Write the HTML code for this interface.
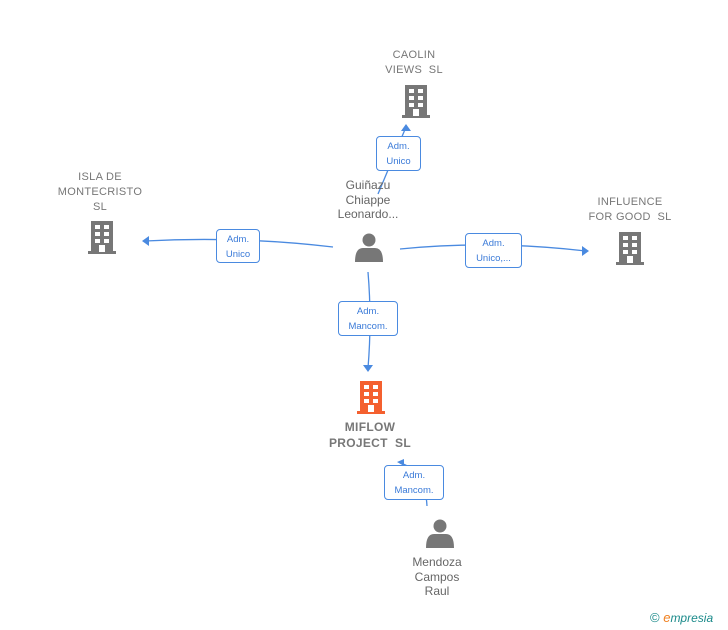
<html><head><style>body{margin:0;background:#fff;width:728px;height:630px;overflow:hidden;font-family:"Liberation Sans",sans-serif}
.t{position:absolute;text-align:center;color:#777;font-size:11px;line-height:15px;font-weight:bold;letter-spacing:.3px}
.p{position:absolute;text-align:center;color:#666;font-size:12px;line-height:14.5px}
.b{position:absolute;border:1px solid #4a8ae0;border-radius:4px;background:#fff;color:#3a7ad8;font-size:9.5px;line-height:15px;text-align:center;box-sizing:border-box;padding-top:2px}
</style></head><body>
<svg width="728" height="630" style="position:absolute;left:0;top:0">
<defs>
<g id="bld"><rect x="3" y="0" width="22" height="31"/><rect x="0" y="30" width="28" height="3"/>
<g fill="#fff"><rect x="7" y="4" width="5" height="4"/><rect x="16" y="4" width="5" height="4"/><rect x="7" y="11" width="5" height="4"/><rect x="16" y="11" width="5" height="4"/><rect x="7" y="18" width="5" height="4"/><rect x="16" y="18" width="5" height="4"/><rect x="11" y="24" width="6" height="7"/></g></g>
<g id="per"><circle cx="14" cy="7" r="6.5"/><path d="M0 29 Q0 15 8 15 L20 15 Q28 15 28 29 Z"/></g>
</defs>
<g stroke="#4a8ae0" stroke-width="1.3" fill="none">
<path d="M378 194 L406 127"/>
<path d="M333 247 Q240 236 145 241"/>
<path d="M400 249 Q490 240 586 251"/>
<path d="M368 272 Q372 320 368 368"/>
<path d="M427 506 Q425 470 400 463"/>
</g>
<g fill="#4a8ae0">
<path d="M406 124 L401 131 L411 131 Z"/>
<path d="M142 241 L149 236 L149 246 Z"/>
<path d="M589 251 L582 246 L582 256 Z"/>
<path d="M368 372 L363 365 L373 365 Z"/>
<path d="M397 462 L404 459 L404 466 Z"/>
</g>
<g fill="#777"><use href="#bld" x="402" y="85"/><use href="#bld" x="88" y="221"/><use href="#bld" x="616" y="232"/></g>
<use href="#bld" x="357" y="381" fill="#f4602f"/>
<g fill="#777"><use href="#per" x="355" y="233"/><use href="#per" x="426" y="519"/></g>
</svg>
<div class="t" style="left:364px;top:48px;width:100px;font-weight:normal">CAOLIN<br>VIEWS&nbsp; SL</div>
<div class="t" style="left:50px;top:170px;width:100px;font-weight:normal">ISLA DE<br>MONTECRISTO<br>SL</div>
<div class="t" style="left:580px;top:195px;width:100px;font-weight:normal">INFLUENCE<br>FOR GOOD&nbsp; SL</div>
<div class="t" style="left:310px;top:419px;width:120px;font-size:12px;line-height:16px">MIFLOW<br>PROJECT&nbsp; SL</div>
<div class="p" style="left:318px;top:178px;width:100px">Guiñazu<br>Chiappe<br>Leonardo...</div>
<div class="p" style="left:387px;top:555px;width:100px">Mendoza<br>Campos<br>Raul</div>
<div class="b" style="left:376px;top:136px;width:45px;height:35px">Adm.<br>Unico</div>
<div class="b" style="left:216px;top:229px;width:44px;height:34px">Adm.<br>Unico</div>
<div class="b" style="left:465px;top:233px;width:57px;height:35px">Adm.<br>Unico,...</div>
<div class="b" style="left:338px;top:301px;width:60px;height:35px">Adm.<br>Mancom.</div>
<div class="b" style="left:384px;top:465px;width:60px;height:35px">Adm.<br>Mancom.</div>
<div style="position:absolute;left:650px;top:610px;font-size:13px;color:#1a8a8a">© <span style="color:#f08020;font-style:italic">e</span><span style="font-style:italic;font-size:12px">mpresia</span></div>
</body></html>
